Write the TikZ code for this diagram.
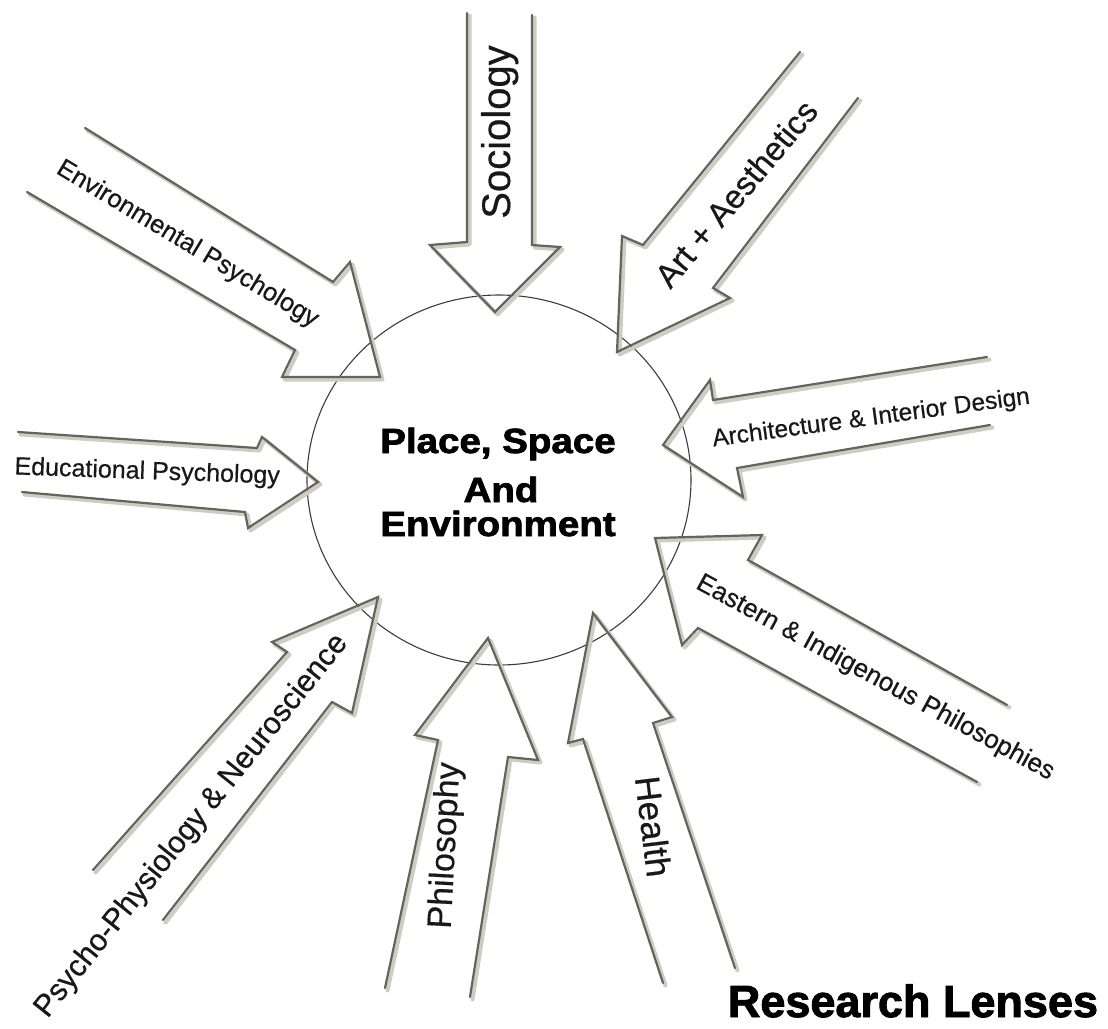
\documentclass[tikz,border=0pt]{standalone}
\usepackage{fontspec}
\usetikzlibrary{shapes.geometric}
\setmainfont{Liberation Sans}[FakeBold=0.5]
\newfontfamily\heavyfont[FakeBold=2]{Liberation Sans Bold}
\definecolor{lensline}{RGB}{100,100,88}
\definecolor{lensshade}{RGB}{205,205,198}
\definecolor{labeltext}{RGB}{24,24,24}
\definecolor{hubline}{RGB}{60,60,60}
\newcommand\lensarrow[1]{\draw[lensshadow] #1; \draw[lens] #1;}
\begin{document}
\begin{tikzpicture}[x=1pt,y=-1pt,
  lens/.style={line width=2.2pt, draw=lensline, line join=miter, line cap=round},
  lensshadow/.style={line width=4pt, draw=lensshade, line join=round, line cap=round, shift={(2.5,2.5)}},
  lbl/.style={inner sep=0pt, anchor=base, text=labeltext},
  title/.style={inner sep=0pt, anchor=base, text=black, font=\heavyfont\fontsize{35}{40}\selectfont, xscale=1.1},
]
\fill[white] (0,0) rectangle (1108,1028);
\useasboundingbox (0,0) rectangle (1108,1028);

% central circle
\node[draw=hubline, line width=1.1pt, ellipse, minimum width=384pt, minimum height=370pt, inner sep=0pt] (hub) at (499,480) {};

% lens arrows
\lensarrow{(467,13) -- (467,242) -- (430,245) -- (495,312) -- (560,247) -- (532,245) -- (532,15)}
\lensarrow{(800,52) -- (643,245) -- (622,236) -- (617,352) -- (730,298) -- (713,288) -- (858,98)}
\lensarrow{(85,128) -- (333,282) -- (350,262) -- (380,377) -- (282,377) -- (295,350) -- (27,192)}
\lensarrow{(987,357) -- (713,400) -- (710,380) -- (663,445) -- (743,497) -- (737,468) -- (990,425)}
\lensarrow{(18,432) -- (257,448) -- (262,437) -- (318,482) -- (248,528) -- (245,512) -- (22,492)}
\lensarrow{(1007,705) -- (748,560) -- (762,535) -- (655,538) -- (682,645) -- (698,628) -- (977,782)}
\lensarrow{(93,870) -- (287,652) -- (272,642) -- (378,597) -- (352,713) -- (332,702) -- (163,920)}
\lensarrow{(385,988) -- (438,740) -- (415,735) -- (488,638) -- (538,760) -- (508,757) -- (470,997)}
\lensarrow{(663,983) -- (583,739) -- (568,743) -- (593,613) -- (672,717) -- (653,723) -- (735,968)}

% labels
\node[lbl, rotate=90, font=\fontsize{40}{48}\selectfont] (soc) at (510,132) {Sociology};
\node[lbl, rotate=50, font=\fontsize{33}{40}\selectfont] (art) at (745,201) {Art + Aesthetics};
\node[lbl, rotate=-31, font=\fontsize{25.5}{30}\selectfont] (env) at (184,250) {Environmental Psychology};
\node[lbl, rotate=7.7, font=\fontsize{24.5}{30}\selectfont] (arch) at (872,425) {Architecture \& Interior Design};
\node[lbl, rotate=-2, font=\fontsize{25}{30}\selectfont] (edu) at (147,479) {Educational Psychology};
\node[lbl, rotate=-28.5, font=\fontsize{26}{30}\selectfont] (east) at (872,684) {Eastern \& Indigenous Philosophies};
\node[lbl, rotate=51.3, font=\fontsize{30.5}{36}\selectfont] (psy) at (198,831) {Psycho-Physiology \& Neuroscience};
\node[lbl, rotate=87, font=\fontsize{34}{40}\selectfont] (phil) at (455,846) {Philosophy};
\node[lbl, rotate=-83, font=\fontsize{35}{40}\selectfont] (health) at (641,828) {Health};

% centre title
\node[title] (t1) at (498,453) {Place, Space};
\node[title] (t2) at (501,502) {And};
\node[title] (t3) at (498,536) {Environment};

\node[inner sep=0pt, anchor=base, font=\heavyfont\fontsize{45}{50}\selectfont] (rl) at (913,1017) {Research Lenses};
\end{tikzpicture}
\end{document}
